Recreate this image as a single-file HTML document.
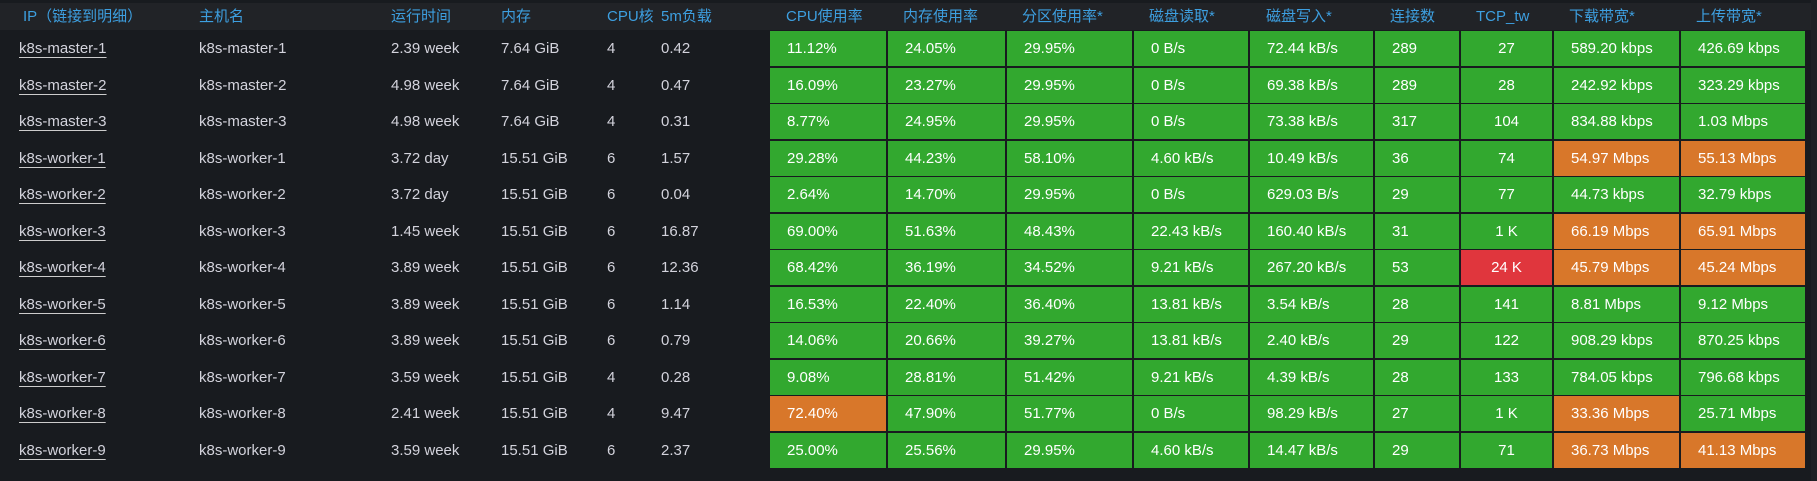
<!DOCTYPE html>
<html><head><meta charset="utf-8"><style>
body{margin:0;width:1817px;height:481px;background:#181b1f;overflow:hidden;font-family:"Liberation Sans","Noto Sans CJK SC",sans-serif;font-size:15px;}
.hd{position:absolute;left:0;top:3px;width:1812px;height:27px;background:#212327;}
.h{position:absolute;top:3px;height:27px;line-height:27px;color:#3d9fe0;white-space:nowrap;font-size:15px}
.t{position:absolute;color:#d3d3dc;white-space:nowrap;height:36px;line-height:36px}
.u{text-decoration:underline;text-underline-offset:4px;text-decoration-color:#ccc}
.c{position:absolute;height:35px;line-height:35px;color:#fff;background:#32a82f;box-sizing:border-box;padding-left:17px;white-space:nowrap}
.o{background:#d8772a}.r{background:#e0363d}
.ctr{padding-left:0;text-align:center}
.sb{position:absolute;left:1811px;top:0;width:6px;height:481px;background:#1e2024}
</style></head><body>
<div class="hd"></div><div class="sb"></div>
<div id="root"></div>
<script>
var H=[["IP（链接到明细）",23],["主机名",199],["运行时间",391],["内存",501],["CPU核",607],["5m负载",661],["CPU使用率",786],["内存使用率",903],["分区使用率*",1022],["磁盘读取*",1149],["磁盘写入*",1266],["连接数",1390],["TCP_tw",1476],["下载带宽*",1569],["上传带宽*",1696]];
var X=[770,888,1007,1134,1250,1375,1461,1554,1681,1807];
var D=[
["k8s-master-1","2.39 week","7.64 GiB","4","0.42","11.12%","24.05%","29.95%","0 B/s","72.44 kB/s","289","27","589.20 kbps","426.69 kbps",""],
["k8s-master-2","4.98 week","7.64 GiB","4","0.47","16.09%","23.27%","29.95%","0 B/s","69.38 kB/s","289","28","242.92 kbps","323.29 kbps",""],
["k8s-master-3","4.98 week","7.64 GiB","4","0.31","8.77%","24.95%","29.95%","0 B/s","73.38 kB/s","317","104","834.88 kbps","1.03 Mbps",""],
["k8s-worker-1","3.72 day","15.51 GiB","6","1.57","29.28%","44.23%","58.10%","4.60 kB/s","10.49 kB/s","36","74","54.97 Mbps","55.13 Mbps",".......oo"],
["k8s-worker-2","3.72 day","15.51 GiB","6","0.04","2.64%","14.70%","29.95%","0 B/s","629.03 B/s","29","77","44.73 kbps","32.79 kbps",""],
["k8s-worker-3","1.45 week","15.51 GiB","6","16.87","69.00%","51.63%","48.43%","22.43 kB/s","160.40 kB/s","31","1 K","66.19 Mbps","65.91 Mbps",".......oo"],
["k8s-worker-4","3.89 week","15.51 GiB","6","12.36","68.42%","36.19%","34.52%","9.21 kB/s","267.20 kB/s","53","24 K","45.79 Mbps","45.24 Mbps","......roo"],
["k8s-worker-5","3.89 week","15.51 GiB","6","1.14","16.53%","22.40%","36.40%","13.81 kB/s","3.54 kB/s","28","141","8.81 Mbps","9.12 Mbps",""],
["k8s-worker-6","3.89 week","15.51 GiB","6","0.79","14.06%","20.66%","39.27%","13.81 kB/s","2.40 kB/s","29","122","908.29 kbps","870.25 kbps",""],
["k8s-worker-7","3.59 week","15.51 GiB","4","0.28","9.08%","28.81%","51.42%","9.21 kB/s","4.39 kB/s","28","133","784.05 kbps","796.68 kbps",""],
["k8s-worker-8","2.41 week","15.51 GiB","4","9.47","72.40%","47.90%","51.77%","0 B/s","98.29 kB/s","27","1 K","33.36 Mbps","25.71 Mbps","o......o."],
["k8s-worker-9","3.59 week","15.51 GiB","6","2.37","25.00%","25.56%","29.95%","4.60 kB/s","14.47 kB/s","29","71","36.73 Mbps","41.13 Mbps",".......oo"]];
var s="";
H.forEach(function(h){s+='<div class="h" style="left:'+h[1]+'px">'+h[0]+'</div>';});
D.forEach(function(r,i){
 var y=31+i*36.5;
 s+='<div class="t u" style="left:19px;top:'+y+'px">'+r[0]+'</div>';
 s+='<div class="t" style="left:199px;top:'+y+'px">'+r[0]+'</div>';
 var tx=[391,501,607,661];
 for(var k=0;k<4;k++)s+='<div class="t" style="left:'+tx[k]+'px;top:'+y+'px">'+r[k+1]+'</div>';
 var f=r[14];
 for(var j=0;j<9;j++){
  var cls="c";var ch=f.charAt(j);if(ch=="o")cls+=" o";if(ch=="r")cls+=" r";if(j==6)cls+=" ctr";
  s+='<div class="'+cls+'" style="left:'+X[j]+'px;top:'+y+'px;width:'+(X[j+1]-X[j]-2)+'px">'+r[j+5]+'</div>';
 }
});
document.getElementById("root").innerHTML=s;
</script>
</body></html>
